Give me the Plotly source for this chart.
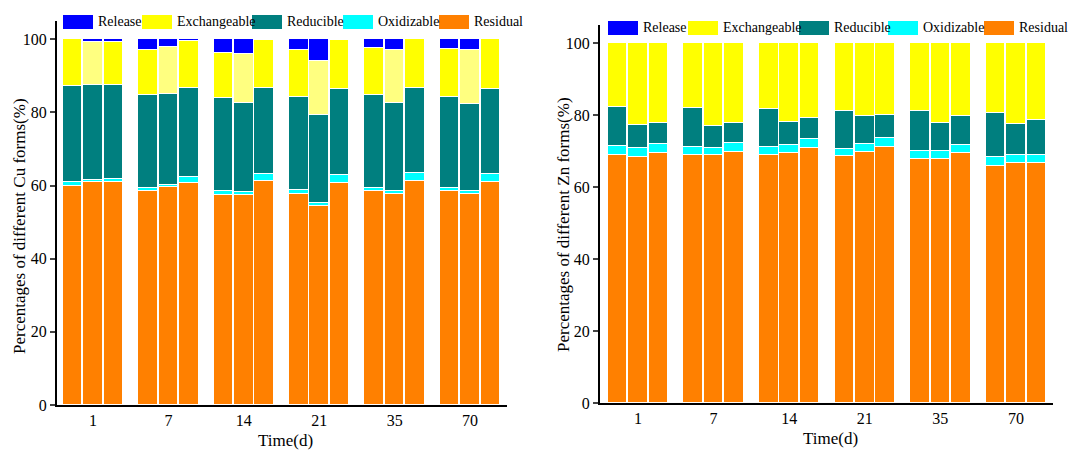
import plotly.graph_objects as go
from plotly.subplots import make_subplots

days = ["1", "7", "14", "21", "35", "70"]
series = ["Release", "Exchangeable", "Reducible", "Oxidizable", "Residual"]
colors = {"Release": "#0000FF", "Exchangeable": "#FFFF00", "Reducible": "#007F7F",
          "Oxidizable": "#00FFFF", "Residual": "#FF8000"}

# Cu: percentages per form, 3 replicate bars per day (order: bar1, bar2, bar3 per day)
cu_residual = [60.0, 61.0, 61.0, 58.5, 59.5, 60.7, 57.5, 57.5, 61.3, 57.8, 54.5, 60.8,
               58.5, 57.8, 61.3, 58.4, 57.8, 61.0]
cu_oxidizable = [1.0, 0.5, 0.8, 0.8, 0.7, 1.6, 1.0, 0.8, 1.9, 0.9, 0.7, 2.0,
                 0.8, 0.7, 2.2, 0.9, 0.6, 2.2]
cu_reducible = [26.3, 26.0, 25.7, 25.5, 24.8, 24.5, 25.5, 24.4, 23.6, 25.5, 24.2, 23.7,
                25.4, 24.1, 23.1, 25.0, 24.0, 23.3]
cu_exchangeable = [12.7, 11.7, 11.7, 12.2, 12.8, 12.7, 12.3, 13.3, 12.9, 12.8, 14.8, 13.2,
                   12.8, 14.4, 13.4, 13.1, 14.8, 13.5]
cu_release = [0.0, 0.8, 0.8, 3.0, 2.2, 0.5, 3.7, 4.0, 0.3, 3.0, 5.8, 0.3,
              2.5, 3.0, 0.0, 2.6, 2.8, 0.0]

# Zn
zn_residual = [69.0, 68.3, 69.5, 69.0, 68.8, 69.7, 69.0, 69.4, 70.9, 68.5, 69.8, 71.2,
               67.8, 67.7, 69.4, 65.8, 66.6, 66.6]
zn_oxidizable = [2.3, 2.5, 2.5, 2.2, 2.1, 2.6, 2.2, 2.2, 2.3, 2.1, 2.2, 2.3,
                 2.2, 2.2, 2.2, 2.5, 2.4, 2.4]
zn_reducible = [10.9, 6.4, 5.8, 10.8, 6.1, 5.5, 10.4, 6.5, 6.0, 10.4, 7.6, 6.5,
                11.0, 7.9, 8.0, 12.2, 8.6, 9.7]
zn_exchangeable = [17.8, 22.8, 22.2, 18.0, 23.0, 22.2, 18.4, 21.9, 20.8, 19.0, 20.4, 20.0,
                   19.0, 22.2, 20.4, 19.5, 22.4, 21.3]
zn_release = [0.0] * 18

W, H = 1089, 450
FONT = "Liberation Serif"

offsets = [-0.27, 0.0, 0.27]
xpos = [g + o for g in range(len(days)) for o in offsets]

fig = make_subplots(rows=1, cols=2)

cu = {"Residual": cu_residual, "Oxidizable": cu_oxidizable, "Reducible": cu_reducible,
      "Exchangeable": cu_exchangeable, "Release": cu_release}
zn = {"Residual": zn_residual, "Oxidizable": zn_oxidizable, "Reducible": zn_reducible,
      "Exchangeable": zn_exchangeable, "Release": zn_release}

stack_order = ["Residual", "Oxidizable", "Reducible", "Exchangeable", "Release"]

for col, data in [(1, cu), (2, zn)]:
    for name in stack_order:
        c = colors[name]
        if name == "Exchangeable" and col == 1:
            c = ["#FFFF80" if i % 3 == 1 else "#FFFF00" for i in range(18)]
        fig.add_trace(go.Bar(
            x=xpos, y=data[name], name=name, width=0.26, showlegend=False,
            marker=dict(color=c, line=dict(color="white", width=1)),
        ), row=1, col=col)

fig.update_layout(
    barmode="stack", width=W, height=H, paper_bgcolor="white", plot_bgcolor="white",
    margin=dict(l=0, r=0, t=0, b=0, autoexpand=False), bargap=0,
    font=dict(family=FONT, size=16, color="black"), showlegend=False,
)

fig.update_xaxes(
    tickmode="array", tickvals=list(range(len(days))), ticktext=days,
    showline=True, linecolor="black", linewidth=2,
    ticks="", showgrid=False, zeroline=False, automargin=False,
    tickfont=dict(size=16, family=FONT),
)
fig.update_yaxes(
    range=[0, 105], tickvals=[0, 20, 40, 60, 80, 100], showline=True, linecolor="black",
    linewidth=2, ticks="outside", ticklen=5, tickwidth=1.5, showgrid=False, zeroline=False,
    automargin=False, tickfont=dict(size=16, family=FONT),
)
fig.update_xaxes(domain=[57 / W, 507 / W], range=[-0.477, 5.49], row=1, col=1)
fig.update_xaxes(domain=[600 / W, 1053 / W], range=[-0.503, 5.49], row=1, col=2)
fig.update_yaxes(domain=[1 - 405 / H, 1 - 21 / H], row=1, col=1)
fig.update_yaxes(domain=[1 - 403 / H, 1 - 25 / H], row=1, col=2)

# axis titles
titles = [
    (19, 226, "Percentages of different Cu forms(%)", -90, 17),
    (563, 225, "Percentages of different Zn forms(%)", -90, 17),
    (285, 440, "Time(d)", 0, 17),
    (830, 438, "Time(d)", 0, 17),
]
for x, y, t, ang, sz in titles:
    fig.add_annotation(x=x / W, y=1 - y / H, xref="paper", yref="paper", text=t,
                       showarrow=False, textangle=ang, xanchor="center", yanchor="middle",
                       font=dict(family=FONT, size=sz, color="black"))

# custom legends (rectangular swatches as in the reference)
legend_layout = [
    (22, [63, 142, 252, 343, 439]),
    (28, [608, 688, 799, 888, 984]),
]
for yc, xs in legend_layout:
    for name, x0 in zip(series, xs):
        fig.add_shape(type="rect", xref="paper", yref="paper",
                      x0=x0 / W, x1=(x0 + 30) / W,
                      y0=1 - (yc - 7) / H, y1=1 - (yc + 7) / H,
                      fillcolor=colors[name], line=dict(width=0))
        fig.add_annotation(x=(x0 + 33) / W, y=1 - yc / H, xref="paper", yref="paper",
                           text=name, showarrow=False, xanchor="left", yanchor="middle",
                           font=dict(family=FONT, size=14, color="black"))

fig.write_html("out.html")
